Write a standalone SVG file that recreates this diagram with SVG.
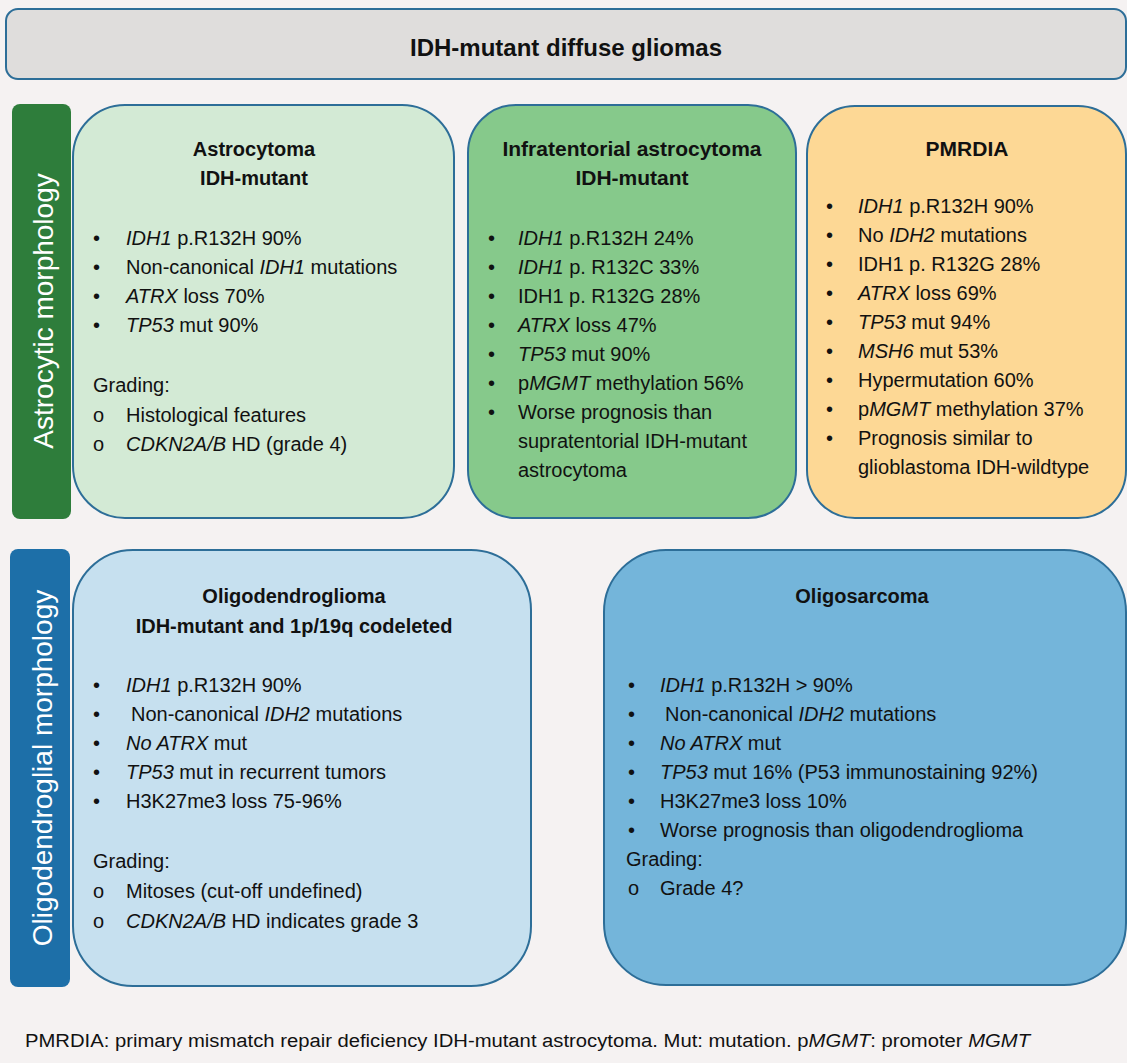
<svg xmlns="http://www.w3.org/2000/svg" width="1127" height="1063" viewBox="0 0 1127 1063">
<style>
text{font-family:"Liberation Sans",Arial,sans-serif;fill:#111;}
.t{font-size:20px;}
.h{font-size:20px;font-weight:bold;text-anchor:middle;}
.i{font-style:italic;}
.side{font-size:28px;fill:#fff;text-anchor:middle;}
.box{stroke:#2d6e98;stroke-width:2;}
.o{font-size:20px;}
</style>
<rect x="0" y="0" width="1127" height="1063" fill="#f5f2f2"/>
<g id="title">
<rect x="6" y="9" width="1120" height="70" rx="12" fill="#dfdddc" stroke="#2d6e98" stroke-width="2"/>
<text x="566" y="56" style="font-size:24px;font-weight:bold;text-anchor:middle">IDH-mutant diffuse gliomas</text>
</g>
<g id="astro-bar">
<rect x="12" y="104" width="59" height="415" rx="8" fill="#2e7d3b"/>
<text class="side" transform="translate(53,311) rotate(-90)">Astrocytic morphology</text>
</g>
<g id="oligo-bar">
<rect x="10" y="549" width="60" height="438" rx="8" fill="#1d6fa8"/>
<text class="side" transform="translate(52,768) rotate(-90)">Oligodendroglial morphology</text>
</g>
<g id="astrocytoma">
<rect class="box" x="73" y="105" width="381" height="413" rx="52" fill="#d3ead5"/>
<text class="h" x="254" y="156">Astrocytoma</text>
<text class="h" x="254" y="185">IDH-mutant</text>
<g class="t">
<text x="93" y="245">•</text><text x="126" y="245"><tspan class="i">IDH1</tspan> p.R132H 90%</text>
<text x="93" y="274">•</text><text x="126" y="274">Non-canonical <tspan class="i">IDH1</tspan> mutations</text>
<text x="93" y="303">•</text><text x="126" y="303"><tspan class="i">ATRX</tspan> loss 70%</text>
<text x="93" y="332">•</text><text x="126" y="332"><tspan class="i">TP53</tspan> mut 90%</text>
<text x="93" y="392">Grading:</text>
<text x="93" y="422" class="o">o</text><text x="126" y="422">Histological features</text>
<text x="93" y="451" class="o">o</text><text x="126" y="451"><tspan class="i">CDKN2A/B</tspan> HD (grade 4)</text>
</g>
</g>
<g id="infratentorial">
<rect class="box" x="468" y="105" width="328" height="413" rx="48" fill="#86c98b"/>
<text class="h" x="632" y="156" style="font-size:21px">Infratentorial astrocytoma</text>
<text class="h" x="632" y="185" style="font-size:21px">IDH-mutant</text>
<g class="t">
<text x="488" y="245">•</text><text x="518" y="245"><tspan class="i">IDH1</tspan> p.R132H 24%</text>
<text x="488" y="274">•</text><text x="518" y="274"><tspan class="i">IDH1</tspan> p. R132C 33%</text>
<text x="488" y="303">•</text><text x="518" y="303">IDH1 p. R132G 28%</text>
<text x="488" y="332">•</text><text x="518" y="332"><tspan class="i">ATRX</tspan> loss 47%</text>
<text x="488" y="361">•</text><text x="518" y="361"><tspan class="i">TP53</tspan> mut 90%</text>
<text x="488" y="390">•</text><text x="518" y="390">p<tspan class="i">MGMT</tspan> methylation 56%</text>
<text x="488" y="419">•</text><text x="518" y="419">Worse prognosis than</text>
<text x="518" y="448">supratentorial IDH-mutant</text>
<text x="518" y="477">astrocytoma</text>
</g>
</g>
<g id="pmrdia">
<rect class="box" x="807" y="106" width="319" height="412" rx="48" fill="#fdd895"/>
<text class="h" x="967" y="156" style="font-size:21px">PMRDIA</text>
<g class="t">
<text x="826" y="213">•</text><text x="858" y="213"><tspan class="i">IDH1</tspan> p.R132H 90%</text>
<text x="826" y="242">•</text><text x="858" y="242">No <tspan class="i">IDH2</tspan> mutations</text>
<text x="826" y="271">•</text><text x="858" y="271">IDH1 p. R132G 28%</text>
<text x="826" y="300">•</text><text x="858" y="300"><tspan class="i">ATRX</tspan> loss 69%</text>
<text x="826" y="329">•</text><text x="858" y="329"><tspan class="i">TP53</tspan> mut 94%</text>
<text x="826" y="358">•</text><text x="858" y="358"><tspan class="i">MSH6</tspan> mut 53%</text>
<text x="826" y="387">•</text><text x="858" y="387">Hypermutation 60%</text>
<text x="826" y="416">•</text><text x="858" y="416">p<tspan class="i">MGMT</tspan> methylation 37%</text>
<text x="826" y="445">•</text><text x="858" y="445">Prognosis similar to</text>
<text x="858" y="474">glioblastoma IDH-wildtype</text>
</g>
</g>
<g id="oligodendroglioma">
<rect class="box" x="73" y="550" width="458" height="436" rx="60" fill="#c6e0ef"/>
<text class="h" x="294" y="603">Oligodendroglioma</text>
<text class="h" x="294" y="633">IDH-mutant and 1p/19q codeleted</text>
<g class="t">
<text x="93" y="692">•</text><text x="126" y="692"><tspan class="i">IDH1</tspan> p.R132H 90%</text>
<text x="93" y="721">•</text><text x="131" y="721">Non-canonical <tspan class="i">IDH2</tspan> mutations</text>
<text x="93" y="750">•</text><text x="126" y="750"><tspan class="i">No ATRX</tspan> mut</text>
<text x="93" y="779">•</text><text x="126" y="779"><tspan class="i">TP53</tspan> mut in recurrent tumors</text>
<text x="93" y="808">•</text><text x="126" y="808">H3K27me3 loss 75-96%</text>
<text x="93" y="868">Grading:</text>
<text x="93" y="898" class="o">o</text><text x="126" y="898">Mitoses (cut-off undefined)</text>
<text x="93" y="928" class="o">o</text><text x="126" y="928"><tspan class="i">CDKN2A/B</tspan> HD indicates grade 3</text>
</g>
</g>
<g id="oligosarcoma">
<rect class="box" x="604" y="550" width="522" height="435" rx="62" fill="#74b5da"/>
<text class="h" x="862" y="603">Oligosarcoma</text>
<g class="t">
<text x="628" y="692">•</text><text x="660" y="692"><tspan class="i">IDH1</tspan> p.R132H &gt; 90%</text>
<text x="628" y="721">•</text><text x="665" y="721">Non-canonical <tspan class="i">IDH2</tspan> mutations</text>
<text x="628" y="750">•</text><text x="660" y="750"><tspan class="i">No ATRX</tspan> mut</text>
<text x="628" y="779">•</text><text x="660" y="779"><tspan class="i">TP53</tspan> mut 16% (P53 immunostaining 92%)</text>
<text x="628" y="808">•</text><text x="660" y="808">H3K27me3 loss 10%</text>
<text x="628" y="837">•</text><text x="660" y="837">Worse prognosis than oligodendroglioma</text>
<text x="626" y="866">Grading:</text>
<text x="628" y="895" class="o">o</text><text x="660" y="895">Grade 4?</text>
</g>
</g>
<g id="connectors"></g>
<text x="25" y="1047" style="font-size:18px" textLength="1005" lengthAdjust="spacingAndGlyphs">PMRDIA: primary mismatch repair deficiency IDH-mutant astrocytoma. Mut: mutation. p<tspan class="i">MGMT</tspan>: promoter <tspan class="i">MGMT</tspan></text>
</svg>
